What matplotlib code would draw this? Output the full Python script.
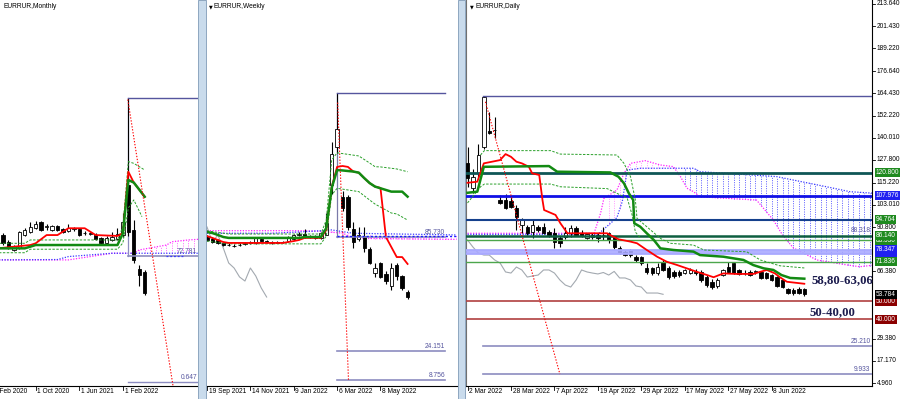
import numpy as np
import matplotlib.pyplot as plt
from matplotlib.patches import Rectangle
from matplotlib.transforms import blended_transform_factory as blend

plt.rcParams["font.family"] = ["Liberation Sans", "DejaVu Sans"]

# ---------------- monthly, Apr 2020 .. Jun 2022 ----------------
m_open = [84.6, 80.6, 76.0, 77.1, 84.6, 86.3, 88.5, 92.0, 89.1, 87.4, 89.7, 88.0, 86.8, 88.0,
          88.0, 85.5, 85.1, 84.6, 82.8, 80.0, 81.7, 82.3, 84.6, 113.0, 87.4, 65.1, 63.4]
m_high = [85.5, 81.5, 79.0, 87.0, 88.5, 91.7, 92.5, 92.6, 91.0, 90.5, 90.3, 88.5, 90.8, 89.1,
          88.8, 86.8, 86.3, 85.7, 83.4, 84.0, 86.3, 88.7, 97.1, 162.9, 93.0, 67.4, 64.5]
m_low = [79.0, 76.5, 75.4, 76.5, 84.0, 85.7, 87.8, 86.8, 87.5, 87.0, 87.0, 85.9, 86.3, 87.0,
         84.0, 84.6, 84.6, 81.7, 79.4, 79.4, 81.1, 81.7, 83.4, 84.0, 68.5, 55.4, 50.2]
m_close = [80.0, 77.1, 78.3, 86.3, 87.4, 89.1, 90.8, 87.4, 89.3, 89.7, 87.4, 86.3, 88.5, 88.2,
           84.6, 85.7, 85.3, 82.3, 80.0, 82.8, 83.4, 85.1, 92.0, 86.3, 70.3, 61.7, 51.4]
m_tenkan_x = [-1, 5, 6, 8, 10, 12, 15, 17, 21, 22, 23, 24, 25, 26]
m_tenkan_y = [76.9, 78.8, 79.8, 84.5, 84.5, 88.4, 88.4, 84.5, 84.0, 85.5, 120.7, 114.5, 110.5, 106.4]
m_kijun_x = [-1, 4, 6, 21, 22, 23, 24, 25, 26]
m_kijun_y = [76.9, 76.9, 78.8, 78.8, 85.5, 116.0, 114.5, 110.5, 106.4]
m_up_x = [-1, 4, 5, 21, 22, 23, 24, 26]
m_up_y = [79.8, 79.8, 81.7, 81.7, 89.3, 126.5, 125.5, 121.7]
m_dn_x = [-1, 4, 5, 21, 22, 23, 24, 25.5]
m_dn_y = [74.4, 74.4, 76.4, 76.4, 80.0, 100.0, 104.6, 95.0]
m_spanb_x = [-1, 12, 20, 24, 25, 30, 31, 34, 36]
m_spanb_y = [70.3, 70.3, 74.1, 74.1, 76.0, 78.8, 80.7, 81.7, 82.1]
m_spana_x = [-1, 10, 12, 20, 24, 36]
m_spana_y = [70.3, 70.5, 72.2, 74.1, 74.1, 74.1]
m_fib = [162.9, 72.781, 0.647]
m_dates = ["1 Feb 2020", "1 Oct 2020", "1 Jun 2021", "1 Feb 2022"]
m_date_bars = [-2, 6, 14, 22]

# ---------------- weekly, 19 Sep 2021 .. 12 Jun 2022 ----------------
w_open = [85.7, 84.6, 84.1, 82.5, 81.5, 80.9, 81.2, 81.9, 82.3, 82.5, 84.6, 83.6, 83.0, 82.6,
          83.2, 83.6, 84.6, 87.0, 87.3, 85.8, 85.7, 85.2, 86.8, 113.7, 134.0, 107.2, 107.2,
          90.0, 84.6, 86.2, 79.2, 66.3, 71.7, 65.8, 59.3, 70.6, 64.7, 56.1]
w_high = [86.5, 85.5, 84.8, 83.0, 82.3, 81.8, 82.3, 83.2, 83.6, 85.8, 85.2, 84.1, 83.6, 83.8,
          83.8, 86.3, 87.5, 88.5, 90.0, 86.8, 86.5, 88.5, 98.6, 137.0, 163.0, 110.5, 108.3,
          93.9, 91.3, 91.3, 80.5, 71.7, 72.4, 67.4, 71.7, 71.7, 65.3, 57.2]
w_low = [83.5, 82.5, 82.0, 81.0, 80.6, 80.2, 80.6, 81.4, 81.9, 82.0, 83.4, 82.6, 82.0, 82.2,
         82.3, 83.2, 84.1, 86.3, 85.2, 85.0, 84.6, 84.8, 86.5, 109.0, 130.9, 99.5, 89.5,
         79.6, 83.8, 77.7, 71.0, 64.3, 63.5, 60.4, 57.1, 62.6, 57.2, 52.3]
w_close = [84.1, 83.0, 82.5, 81.4, 81.2, 80.8, 81.4, 82.3, 83.0, 85.2, 83.8, 83.0, 82.6, 83.2,
           82.8, 85.8, 86.8, 87.2, 85.7, 85.9, 85.4, 87.8, 93.2, 130.3, 143.8, 101.3, 91.1,
           83.0, 86.8, 79.8, 71.7, 69.0, 64.2, 62.0, 69.0, 64.7, 58.3, 53.4]
w_tenkan = [86.2, 85.2, 84.1, 83.0, 82.5, 82.5, 82.5, 82.5, 82.5, 82.5, 82.5, 82.5, 82.5, 82.5,
            82.5, 83.0, 83.5, 84.1, 85.2, 85.2, 85.2, 85.2, 89.5, 112.6, 123.4, 123.9, 123.4,
            120.9, 120.3, 117.4, 114.7, 112.8, 112.1, 85.7, 80.3, 74.9, 74.9, 71.2]
w_kijun = [88.4, 87.8, 86.8, 85.7, 85.2, 85.2, 85.2, 85.2, 85.2, 85.2, 85.2, 85.2, 85.2, 85.2,
           85.2, 85.2, 85.2, 85.2, 85.7, 85.7, 85.7, 85.7, 90.5, 112.1, 121.7, 121.5, 121.2,
           120.9, 120.3, 117.4, 114.7, 112.8, 111.9, 111.0, 110.1, 110.1, 110.1, 107.4]
w_up_x = [0, 4, 21, 22, 23, 24, 28, 30, 31, 32, 35, 37]
w_up_y = [89.0, 87.3, 87.3, 94.8, 127.1, 131.0, 129.3, 125.5, 123.5, 123.4, 122.3, 120.8]
w_dn_x = [0, 4, 21, 22, 23, 24, 26, 28, 30, 31, 33, 34, 35, 37]
w_dn_y = [83.5, 82.0, 82.0, 86.2, 108.3, 111.9, 111.0, 110.1, 105.6, 103.4, 100.2, 98.6, 98.1, 94.8]
w_spanb_x = [0, 17, 20, 25, 27, 46]
w_spanb_y = [89.1, 89.1, 88.9, 87.8, 85.0, 84.4]
w_spana_x = [0, 12, 17, 20, 23, 27, 46]
w_spana_y = [87.7, 87.7, 88.4, 88.9, 89.5, 87.7, 86.8]
w_fib = [163.0, 85.730, 24.151, 8.756]
w_dates = ["19 Sep 2021", "14 Nov 2021", "9 Jan 2022", "6 Mar 2022", "8 May 2022"]
w_date_bars = [0, 8, 16, 24, 32]

# ---------------- daily, 2 Mar 2022 .. 17 Jun 2022 ----------------
d_open = [126.1, 112.3, 120.6, 134.9, 143.7, 144.0, 105.7, 105.7, 105.0, 101.3, 92.0, 90.8,
          88.1, 90.8, 90.8, 88.1, 87.5, 84.8, 85.3, 87.5, 90.3, 87.5, 84.8, 86.4, 86.4, 86.5,
          87.5, 85.3, 79.3, 77.1, 78.2, 74.3, 74.3, 68.3, 68.3, 65.5, 71.6, 68.3, 66.1, 66.1,
          65.5, 65.5, 66.1, 66.1, 63.3, 60.6, 58.4, 64.4, 68.8, 71.0, 67.2, 65.5, 66.1, 66.1,
          66.1, 65.5, 64.4, 63.3, 61.7, 56.7, 56.2, 56.7, 56.7]
d_high = [134.9, 122.8, 136.6, 163.2, 154.2, 151.6, 108.4, 109.0, 107.9, 102.9, 96.0, 92.0,
          94.7, 91.9, 93.1, 89.2, 90.3, 85.9, 90.8, 92.0, 91.4, 89.2, 87.5, 87.5, 87.5, 91.0,
          88.1, 86.0, 80.3, 78.2, 78.7, 75.4, 75.0, 71.0, 69.0, 71.0, 72.7, 69.4, 67.2, 67.0,
          68.0, 68.3, 67.5, 67.2, 64.2, 62.0, 62.5, 68.0, 71.6, 71.6, 68.0, 67.2, 67.0, 67.2,
          66.6, 66.1, 65.0, 64.0, 62.2, 57.5, 57.2, 57.8, 57.5]
d_low = [112.9, 109.6, 118.6, 134.0, 141.8, 139.7, 103.5, 100.7, 101.3, 89.2, 87.5, 86.4,
         84.8, 88.1, 86.9, 85.3, 79.3, 79.8, 84.2, 85.3, 85.9, 85.3, 84.2, 84.2, 82.6, 83.7,
         81.9, 79.0, 75.9, 74.8, 74.5, 71.8, 69.8, 65.0, 64.4, 64.4, 66.6, 62.2, 63.0, 63.5,
         64.8, 65.0, 64.5, 60.6, 58.0, 56.7, 57.5, 63.9, 65.5, 64.8, 64.4, 64.4, 63.9, 64.8,
         62.2, 62.2, 61.1, 57.8, 57.2, 53.9, 53.4, 53.9, 53.1]
d_close = [117.8, 118.4, 130.5, 162.4, 142.6, 144.3, 104.1, 101.3, 101.9, 96.4, 94.7, 87.5,
           92.0, 89.2, 87.5, 86.4, 82.6, 82.0, 87.5, 90.3, 86.4, 85.9, 87.0, 85.3, 84.8, 86.3,
           83.7, 79.8, 76.5, 75.4, 75.4, 72.7, 71.0, 66.1, 65.5, 68.8, 67.2, 63.3, 63.9, 64.4,
           67.2, 67.2, 65.5, 61.7, 58.9, 57.8, 61.7, 67.2, 66.1, 65.5, 65.0, 65.8, 64.4, 66.4,
           62.8, 62.8, 61.7, 58.4, 57.8, 54.5, 54.5, 54.5, 53.8]
d_tenkan_x = [0, 1.8, 3, 6, 7, 8, 9, 10, 11.3, 11.9, 13.2, 13.8, 14.1, 16.2, 17.1, 18.4, 25.7,
              26.6, 27.8, 30.0, 31.2, 33.0, 34.9, 36.7, 38.6, 42.2, 44.1, 45.3, 47.1, 49.6,
              52.6, 53.9, 55.1, 56.6, 57.5, 58.8, 62]
d_tenkan_y = [115.2, 115.8, 125.9, 127.7, 131.0, 129.5, 126.8, 125.9, 124.0, 120.4, 119.5,
              105.7, 100.2, 97.5, 92.9, 87.4, 87.4, 85.9, 84.1, 82.8, 81.9, 78.2, 74.5, 71.7,
              69.9, 66.2, 64.4, 63.2, 65.3, 65.0, 65.0, 66.2, 67.2, 65.3, 63.2, 60.7, 59.6]
d_kijun_x = [0, 1.8, 3, 15, 16.5, 26.3, 27.8, 28.8, 29.7, 30.5, 30.7, 31.8, 33.0, 34.3, 35.5,
             37.9, 41.6, 42.8, 47.1, 50.8, 52.6, 54.5, 56.3, 57.8, 59.4, 62]
d_kijun_y = [109.7, 110.3, 124.0, 124.4, 121.3, 120.9, 118.5, 114.9, 109.4, 105.7, 92.9, 91.0,
             87.4, 83.7, 79.1, 78.2, 77.3, 75.4, 74.5, 72.7, 69.9, 68.1, 67.2, 64.4, 62.8, 62.4]
d_up_x = [2.4, 3.1, 15.3, 17.1, 27.5, 28.8, 30.0, 30.9, 31.2, 33.0, 35.5, 37.3, 41.6, 43.5,
          51.4, 53.9, 57.5, 62]
d_up_y = [130.5, 132.9, 132.9, 131.0, 130.5, 125.9, 118.6, 105.7, 95.6, 91.0, 84.6, 81.9,
          80.9, 78.2, 77.2, 72.7, 69.5, 68.3]
d_dn_x = [0, 2.4, 3.1, 15.3, 17.1, 25.7, 27.5, 29.4, 30.3, 30.9, 31.8]
d_dn_y = [104.1, 113.0, 114.5, 114.5, 113.0, 112.0, 109.4, 106.7, 97.5, 88.1, 84.8]
d_spanb_x = [0, 23.3, 24.5, 25.1, 27.5, 28.8, 30.0, 32.7, 35.5, 37.9, 39.2, 40.4, 41.6, 42.8,
             53.2, 56.3, 58, 60, 64.3, 70, 72.2, 75]
d_spanb_y = [87.4, 87.4, 98.5, 106.5, 111.2, 120.4, 125.9, 127.4, 125.0, 124.1, 118.6, 112.2,
             110.3, 107.5, 105.7, 94.7, 86.4, 79.3, 72.7, 69.9, 69.0, 69.9]
d_spana_x = [0, 24, 27.5, 28.5, 29.4, 31.8, 41.6, 42.8, 47.7, 56.9, 60, 66.1, 70.4, 75]
d_spana_y = [86.8, 86.8, 96.0, 105.0, 122.2, 123.2, 123.2, 121.3, 120.4, 118.6, 116.7, 113.0,
             110.3, 109.4]
d_fib = [163.0, 25.210, 9.933]
d_dates = ["2 Mar 2022", "28 Mar 2022", "7 Apr 2022", "19 Apr 2022", "29 Apr 2022",
           "17 May 2022", "27 May 2022", "8 Jun 2022"]
d_date_bars = [0, 8, 16, 24, 32, 40, 48, 56]
d_ticks = [213.640, 201.430, 189.220, 176.640, 164.430, 152.220, 140.010, 127.800, 115.220,
           103.010, 90.800, 66.380, 29.380, 17.170, 4.960]
# horizontal levels: value, line colour, width, label box colour (drawn in this order)
levels = [
    (120.800, "#0f5656", 2.0, "#1f8a1f"),
    (107.976, "#1010e6", 2.0, "#2020f0"),
    (94.764, "#15408c", 1.5, "#1f8a1f"),
    (83.530, "#4ca64c", 1.0, "#1f8a1f"),
    (86.140, "#0d5e40", 1.8, "#1f8a1f"),
    (76.585, "#a9a9ff", 2.0, "#2020f0"),
    (78.347, "#a9a9ff", 2.0, "#2020f0"),
    (71.836, "#4ca64c", 1.0, "#1f8a1f"),
    (50.000, "#b04040", 1.2, "#8b0000"),
    (40.000, "#b04040", 1.2, "#8b0000"),
]
last_price = 53.784

W, H = 900, 399
RED, GREEN, DGREEN = "#ff0000", "#128a12", "#2aa02a"
MAG, BLUE, GRAY = "#ff22ff", "#3b3bff", "#a3a9b0"
FIBTOP, FIB, FIBTXT = "#55559e", "#8c8cc0", "#55559e"
SMALL = 4.8


def box(x0, x1, y0, y1):
    return [x0 / W, 1 - y1 / H, (x1 - x0) / W, (y1 - y0) / H]


def ftext(x, y, s, **kw):
    fig.text(x / W, 1 - y / H, s, **kw)


def candles(ax, o, h, l, c):
    o, h, l, c = map(np.asarray, (o, h, l, c))
    x = np.arange(len(o))
    ax.vlines(x, l, h, color="black", lw=0.8, zorder=4)
    body = np.maximum(np.abs(c - o), 0.3)
    colors = np.where(c >= o, "white", "black")
    ax.bar(x, body, 0.62, np.minimum(o, c), color=colors, edgecolor="black", lw=0.6, zorder=4.1)


def hatch(ax, xa, ya, xb, yb, i0, i1, color):
    xs = np.arange(i0, i1 + 1)
    a = np.interp(xs, xa, ya)
    b = np.interp(xs, xb, yb)
    ax.vlines(xs, np.minimum(a, b), np.maximum(a, b), colors=color, lw=0.7,
              linestyles=(0, (1, 1.4)), zorder=1)


def ichimoku(ax, tk_x, tk_y, kj_x, kj_y, up, dn, sa, sb, closes):
    ax.plot(sb[0], sb[1], color=MAG, lw=0.9, ls=(0, (1, 1.2)), zorder=2)
    ax.plot(sa[0], sa[1], color=BLUE, lw=0.9, ls=(0, (1, 1.2)), zorder=2)
    ch = np.asarray(closes)[26:]
    ax.plot(np.arange(len(ch)), ch, color=GRAY, lw=0.8, zorder=2.5)
    ax.plot(up[0], up[1], color=DGREEN, lw=0.7, ls=(0, (2.5, 1.5)), zorder=5)
    ax.plot(dn[0], dn[1], color=DGREEN, lw=0.7, ls=(0, (2.5, 1.5)), zorder=5)
    ax.plot(tk_x, tk_y, color=RED, lw=1.3, zorder=5.5)
    ax.plot(kj_x, kj_y, color=GREEN, lw=1.8, zorder=5.6)


def date_labels(ax, bars, labels):
    tr = blend(ax.transData, ax.transAxes)
    for b, s in zip(bars, labels):
        ax.plot([b, b], [0, -0.011], transform=tr, color="black", lw=0.6, clip_on=False)
        ax.text(b + 0.3, -0.014, s, transform=tr, ha="left", va="center", fontsize=SMALL,
                clip_on=False)


def fib_label(ax, x, v, s):
    ax.text(x, v, s, ha="right", va="bottom", fontsize=SMALL, color=FIBTXT, zorder=7)


fig = plt.figure(figsize=(9, 3.99), dpi=100, facecolor="white")
axm = fig.add_axes(box(0, 198, 0, 386))
axw = fig.add_axes(box(205, 458, 0, 386))
axd = fig.add_axes(box(466, 872, 0, 386))
for ax in (axm, axw, axd):
    ax.set_xticks([])
    ax.set_yticks([])
    for sp in ax.spines.values():
        sp.set_visible(False)
    ax.spines["bottom"].set_visible(True)
    ax.spines["bottom"].set_linewidth(0.8)
axw.spines["left"].set_visible(True)
axw.spines["left"].set_color("#707070")
axd.spines["left"].set_visible(True)
axd.spines["left"].set_color("#707070")
axd.spines["right"].set_visible(True)
axd.spines["right"].set_linewidth(0.8)

for x0 in (198, 458):
    fig.patches.append(Rectangle((x0 / W, 0), 7.5 / W, 1, transform=fig.transFigure,
                                 facecolor="#c9dbec", edgecolor="#8ea6c0", lw=0.7))

# ---- monthly ----
axm.set_xlim(-0.55, 35.78)
axm.set_ylim(-1.8, 218.9)
hatch(axm, m_spanb_x, m_spanb_y, m_spana_x, m_spana_y, 24, 35, "#ff66ff")
ichimoku(axm, m_tenkan_x, m_tenkan_y, m_kijun_x, m_kijun_y, (m_up_x, m_up_y),
         (m_dn_x, m_dn_y), (m_spana_x, m_spana_y), (m_spanb_x, m_spanb_y), m_close)
candles(axm, m_open, m_high, m_low, m_close)
axm.plot([23, 36], [m_fib[0]] * 2, color=FIBTOP, lw=1.0, zorder=6)
axm.plot([23, 36], [m_fib[1]] * 2, color=FIB, lw=1.2, zorder=6)
axm.plot([23, 36], [m_fib[2]] * 2, color=FIB, lw=1.0, zorder=6)
axm.plot([23, 23], [m_fib[1], m_fib[0]], color=FIB, lw=0.9, zorder=3)
axm.plot([30, 33], [72.5, 72.5], color=BLUE, lw=0.9, ls=(0, (1.5, 1.5)), zorder=6)
axm.plot([22.9, 31.2], [162, -1.8], color=RED, lw=0.8, ls=(0, (1.2, 1.5)), zorder=6)
fib_label(axm, 35.6, m_fib[1] + 0.4, "72.781")
fib_label(axm, 35.6, m_fib[2] + 0.4, "0.647")
axm.text(3 / 198, 1 - 6 / 386, "EURRUR,Monthly", transform=axm.transAxes, fontsize=SMALL,
         va="center", ha="left")
date_labels(axm, m_date_bars, m_dates)

# ---- weekly ----
axw.set_xlim(-0.37, 46.3)
axw.set_ylim(5.53, 213.2)
hatch(axw, w_spanb_x, w_spanb_y, w_spana_x, w_spana_y, 0, 46, "#ff77ff")
ichimoku(axw, np.arange(38), w_tenkan, np.arange(38), w_kijun, (w_up_x, w_up_y),
         (w_dn_x, w_dn_y), (w_spana_x, w_spana_y), (w_spanb_x, w_spanb_y), w_close)
candles(axw, w_open, w_high, w_low, w_close)
axw.plot([24, 43.9], [w_fib[0]] * 2, color=FIBTOP, lw=1.0, zorder=6)
for v in w_fib[1:]:
    axw.plot([24, 43.9], [v, v], color=FIB, lw=1.2, zorder=6)
axw.plot([24, 46.3], [w_fib[1] + 0.4] * 2, color="#1a1aff", lw=1.0, ls=(0, (1.5, 1.5)), zorder=6.1)
axw.plot([24, 24], [w_fib[1], w_fib[0]], color="#7a7aa8", lw=0.9, zorder=3)
axw.plot([24.1, 26.1], [158, 8.756], color=RED, lw=0.8, ls=(0, (1.2, 1.5)), zorder=6)
for v, s in zip(w_fib[1:], ["85.730", "24.151", "8.756"]):
    fib_label(axw, 43.9, v + 0.5, s)
ftext(208.5, 7, "\u25bc", fontsize=3.5, family="DejaVu Sans", va="center", ha="left")
ftext(214, 7, "EURRUR,Weekly", fontsize=SMALL, va="center", ha="left")
date_labels(axw, w_date_bars, w_dates)

# ---- daily ----
axd.set_xlim(-0.28, 74.46)
axd.set_ylim(3.31, 215.84)
hatch(axd, d_spana_x, d_spana_y, d_spanb_x, d_spanb_y, 40, 74, "#5a5aff")
hatch(axd, d_spana_x, d_spana_y, d_spanb_x, d_spanb_y, 26, 38, "#ff99ff")
for v, col, lw, _ in levels:
    axd.axhline(v, color=col, lw=lw, zorder=4.5)
axd.plot([2.9, 75], [d_fib[0]] * 2, color=FIBTOP, lw=1.0, zorder=6)
for v in d_fib[1:]:
    axd.plot([2.9, 75], [v, v], color=FIB, lw=1.2, zorder=6)
axd.plot([3.3, 17.0], [159.8, 9.9], color=RED, lw=0.8, ls=(0, (1.2, 1.5)), zorder=6)
ichimoku(axd, d_tenkan_x, d_tenkan_y, d_kijun_x, d_kijun_y, (d_up_x, d_up_y),
         (d_dn_x, d_dn_y), (d_spana_x, d_spana_y), (d_spanb_x, d_spanb_y), d_close)
candles(axd, d_open, d_high, d_low, d_close)
fib_label(axd, 74.2, d_fib[1] + 0.5, "25.210")
fib_label(axd, 74.2, d_fib[2] + 0.5, "9.933")
fib_label(axd, 74.2, 86.9, "88.318")
ftext(469.5, 7, "\u25bc", fontsize=3.5, family="DejaVu Sans", va="center", ha="left")
ftext(475, 7, "EURRUR,Daily", fontsize=SMALL, va="center", ha="left")
date_labels(axd, d_date_bars, d_dates)

tr = blend(axd.transAxes, axd.transData)
for v in d_ticks:
    axd.plot([1, 1.008], [v, v], transform=tr, color="black", lw=0.6, clip_on=False)
    axd.text(1.011, v, f"{v:.3f}", transform=tr, fontsize=4.7, va="center", ha="left")
for v, _, _, bcol in levels + [(last_price, None, None, "#000000")]:
    axd.text(1.009, v, f"{v:.3f}", transform=tr, fontsize=4.7, va="center", ha="left",
             color="white", zorder=8,
             bbox=dict(boxstyle="square,pad=0.15", facecolor=bcol, edgecolor="none"))

serif = dict(family=["Liberation Serif", "DejaVu Serif"], fontweight="bold", fontsize=9.2,
             color="#1b1b4d", va="center", ha="left")
ftext(811, 280, "58,80-63,06", **serif)
ftext(810, 312, "50-40,00", **serif)

fig.savefig("out.png", dpi=100, facecolor="white")
